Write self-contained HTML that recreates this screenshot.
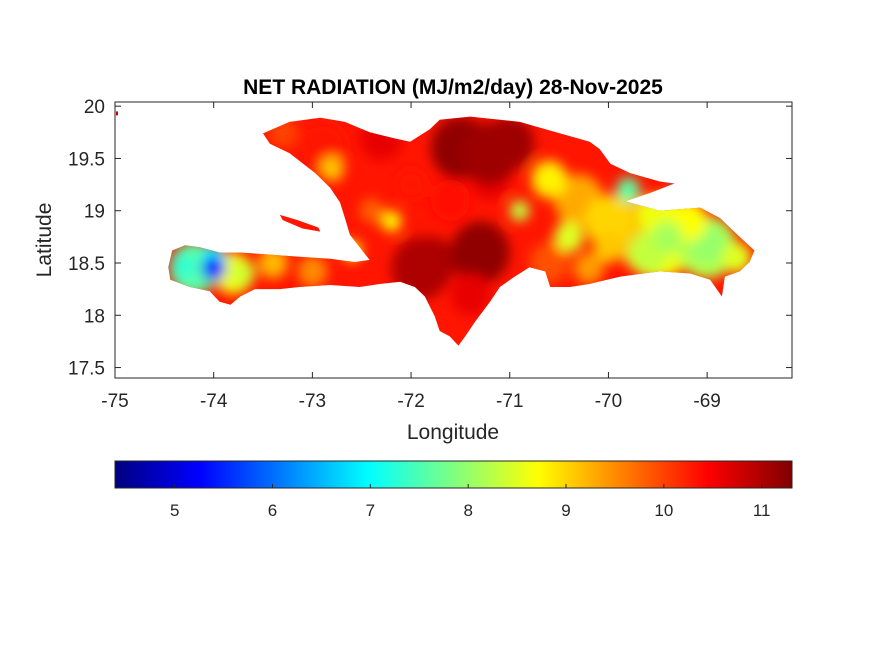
<!DOCTYPE html>
<html><head><meta charset="utf-8">
<style>
body{margin:0;background:#fff;}
svg{display:block;font-family:"Liberation Sans",Arial,sans-serif;}
</style></head>
<body>
<svg id="chart" width="875" height="656" viewBox="0 0 875 656" xmlns="http://www.w3.org/2000/svg">
<defs>
<filter id="blur" x="-20%" y="-20%" width="140%" height="140%"><feGaussianBlur stdDeviation="6"/></filter>
<clipPath id="islandClip"><path id="clipPath"/></clipPath>
<linearGradient id="cbGrad" x1="0" x2="1" y1="0" y2="0"></linearGradient>
</defs>
<rect x="0" y="0" width="875" height="656" fill="#fff"/>
<text x="453" y="94" font-size="21" font-weight="bold" text-anchor="middle">NET RADIATION (MJ/m2/day) 28-Nov-2025</text>
<g id="mapLayer"></g>
<rect x="115" y="102" width="677" height="276" fill="none" stroke="#262626" stroke-width="1"/>
<g id="axes"></g>
<text x="453" y="439" font-size="21" text-anchor="middle" fill="#262626">Longitude</text>
<text transform="translate(51,240) rotate(-90)" font-size="21" text-anchor="middle" fill="#262626">Latitude</text>
<rect x="115" y="461" width="677" height="27" fill="url(#cbGrad)" stroke="#262626" stroke-width="1"/>
<g id="cbTicks"></g>
</svg>
<script>
const xTicks=[-75,-74,-73,-72,-71,-70,-69];
const yTicks=[20,19.5,19,18.5,18,17.5];
const cbTickValues=[5,6,7,8,9,10,11];
const cbMin=4.39, cbMax=11.31;
const islandLon=[-73.50,-73.23,-72.92,-72.67,-72.42,-72.16,-72.01,-71.81,-71.71,-71.40,-70.90,-70.49,-70.19,-70.09,-69.98,-69.78,-69.48,-69.33,-69.58,-69.83,-69.48,-69.07,-68.87,-68.67,-68.52,-68.57,-68.67,-68.82,-68.85,-68.97,-69.17,-69.48,-69.88,-70.19,-70.39,-70.59,-70.64,-70.80,-70.95,-71.10,-71.20,-71.35,-71.45,-71.52,-71.61,-71.71,-71.76,-71.86,-71.96,-72.11,-72.31,-72.52,-72.82,-73.13,-73.33,-73.58,-73.73,-73.83,-73.94,-74.04,-74.24,-74.44,-74.46,-74.42,-74.29,-74.14,-73.94,-73.73,-73.43,-73.13,-72.82,-72.57,-72.42,-72.52,-72.62,-72.67,-72.72,-72.82,-72.97,-73.23,-73.43];
const islandLat=[19.74,19.85,19.89,19.85,19.75,19.69,19.66,19.78,19.87,19.90,19.85,19.74,19.66,19.59,19.45,19.36,19.28,19.26,19.17,19.09,19.00,19.03,18.93,18.75,18.62,18.51,18.42,18.37,18.18,18.34,18.40,18.42,18.37,18.30,18.27,18.27,18.42,18.46,18.37,18.27,18.13,17.94,17.80,17.71,17.80,17.85,17.99,18.18,18.27,18.32,18.30,18.27,18.29,18.27,18.25,18.25,18.18,18.10,18.13,18.23,18.27,18.34,18.46,18.62,18.67,18.65,18.60,18.60,18.58,18.56,18.54,18.51,18.53,18.65,18.77,18.93,19.08,19.22,19.36,19.55,19.64];
const gonaveLon=[-73.33,-73.15,-72.94,-72.92,-73.10,-73.30];
const gonaveLat=[18.96,18.91,18.84,18.80,18.83,18.91];
const patchLon=[-69.5,-69.0,-69.9,-70.3,-74.2,-73.8,-74.0,-72.9,-72.3,-71.5,-71.0,-70.6,-71.2,-71.6,-72.0,-71.3,-70.6,-70.0,-69.5,-69.0,-68.7,-69.8,-69.3,-69.6,-70.2,-74.0,-74.3,-73.7,-73.4,-73.0,-72.6,-71.8,-72.4,-72.8,-70.9,-70.4,-69.2,-71.9,-73.3,-72.2,-70.0,-69.4,-71.4,-71.2,-71.9];
const patchLat=[18.75,18.65,18.85,19.1,18.45,18.4,18.55,19.6,19.7,19.6,19.65,19.3,19.3,19.1,19.25,18.6,18.5,18.9,18.95,18.7,18.55,19.2,19.27,18.6,18.45,18.45,18.47,18.4,18.5,18.42,18.62,18.5,19.0,19.4,19.0,18.75,18.9,18.35,19.75,18.9,18.65,18.75,18.2,19.55,18.45];
const patchVal=[8.6,8.2,9.2,9.3,7.6,8.6,7.0,10.3,10.6,11.2,11.1,8.8,10.6,10.4,10.3,11.2,9.9,9.0,8.6,8.0,8.5,7.6,6.5,8.3,9.4,5.3,7.3,8.4,9.2,9.5,8.8,11.1,9.8,9.1,8.3,8.5,8.7,10.9,10.0,8.7,9.1,8.1,10.6,11.1,11.0];
const patchRad=[0.4,0.3,0.3,0.25,0.25,0.2,0.12,0.25,0.22,0.3,0.25,0.18,0.2,0.2,0.15,0.3,0.2,0.25,0.2,0.2,0.15,0.12,0.06,0.2,0.15,0.12,0.12,0.12,0.15,0.15,0.1,0.25,0.12,0.12,0.1,0.15,0.2,0.2,0.15,0.1,0.15,0.15,0.2,0.3,0.3];

const NS="http://www.w3.org/2000/svg";
const X0=115,X1=792,Y0=102,Y1=378,LON0=-75,LON1=-68.14,LAT0=17.4,LAT1=20.04;
function xs(lon){return X0+(lon-LON0)/(LON1-LON0)*(X1-X0);}
function ys(lat){return Y1-(lat-LAT0)/(LAT1-LAT0)*(Y1-Y0);}
function cl(v){return Math.max(0,Math.min(1,v));}
function jet(v){const t=cl((v-cbMin)/(cbMax-cbMin));
 const r=cl(1.5-Math.abs(4*t-3)),g=cl(1.5-Math.abs(4*t-2)),b=cl(1.5-Math.abs(4*t-1));
 return `rgb(${Math.round(r*255)},${Math.round(g*255)},${Math.round(b*255)})`;}
function mk(tag,attrs,parent){const e=document.createElementNS(NS,tag);for(const k in attrs)e.setAttribute(k,attrs[k]);parent.appendChild(e);return e;}
function pathOf(lons,lats){return lons.map((l,i)=>(i?'L':'M')+xs(l).toFixed(1)+','+ys(lats[i]).toFixed(1)).join('')+'Z';}

const map=document.getElementById('mapLayer');
const d=pathOf(islandLon,islandLat)+pathOf(gonaveLon,gonaveLat);
document.getElementById('clipPath').setAttribute('d',d);
const island=mk('path',{d:d,fill:jet(10.3)},map);


const pg=mk('g',{'clip-path':'url(#islandClip)'},map);


const inner=mk('g',{filter:'url(#blur)'},pg);
patchLon.forEach((lon,i)=>{
 const rx=patchRad[i]/(LON1-LON0)*(X1-X0), ry=patchRad[i]/(LAT1-LAT0)*(Y1-Y0);
 const e=mk('ellipse',{cx:xs(lon),cy:ys(patchLat[i]),rx:rx,ry:ry,fill:jet(patchVal[i])},inner);
 
 
});
const sp=mk('rect',{x:xs(-74.99),y:ys(19.95),width:2,height:4,fill:jet(10.8)},map);



const ax=document.getElementById('axes');
xTicks.forEach(v=>{const x=xs(v);
 mk('line',{x1:x,x2:x,y1:Y1,y2:Y1-6,stroke:'#262626'},ax);
 mk('line',{x1:x,x2:x,y1:Y0,y2:Y0+6,stroke:'#262626'},ax);
 const t=mk('text',{x:x,y:Y1+29,'font-size':19,'text-anchor':'middle',fill:'#262626'},ax);t.textContent=v;
 
 
});
yTicks.forEach(v=>{const y=ys(v);
 mk('line',{x1:X0,x2:X0+6,y1:y,y2:y,stroke:'#262626'},ax);
 mk('line',{x1:X1,x2:X1-6,y1:y,y2:y,stroke:'#262626'},ax);
 const t=mk('text',{x:X0-10,y:y+7,'font-size':19,'text-anchor':'end',fill:'#262626'},ax);t.textContent=v;
 
 
});
const grad=document.getElementById('cbGrad');
for(let i=0;i<=40;i++){const v=cbMin+(cbMax-cbMin)*i/40;mk('stop',{offset:(i/40*100)+'%','stop-color':jet(v)},grad);}
const cb=document.getElementById('cbTicks');
cbTickValues.forEach(v=>{const x=X0+(v-cbMin)/(cbMax-cbMin)*(X1-X0);
 mk('line',{x1:x,x2:x,y1:488,y2:484,stroke:'#262626'},cb);
 const t=mk('text',{x:x,y:516,'font-size':17,'text-anchor':'middle',fill:'#262626'},cb);t.textContent=v;
 
 
});
</script>
</body></html>
